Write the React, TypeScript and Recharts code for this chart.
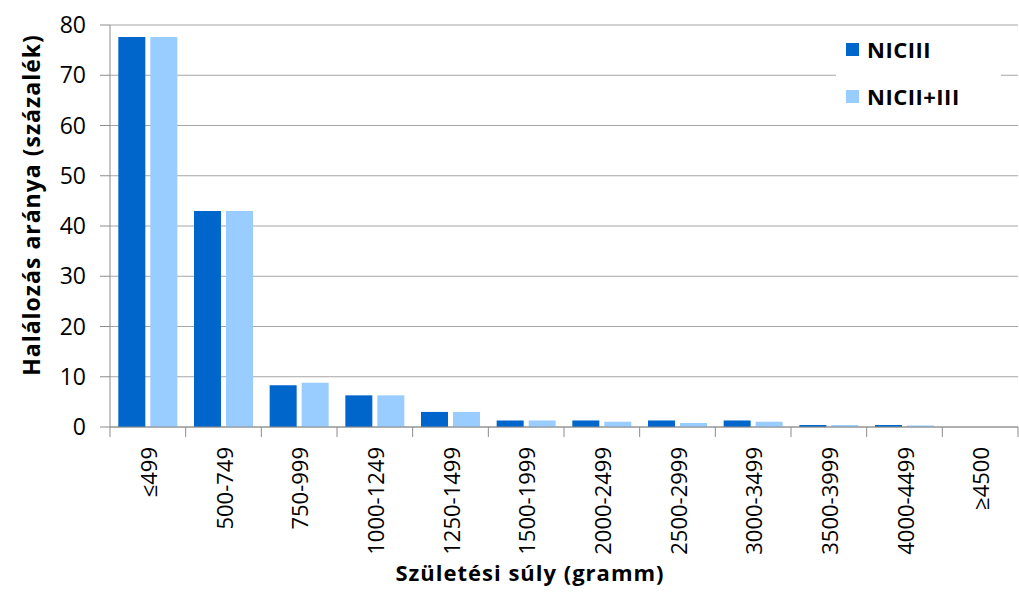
import { Bar, BarChart, CartesianGrid, Label, XAxis, YAxis } from 'recharts';

// Birth weight categories and mortality rates (%).
const CATEGORIES = [
  '≤499', '500-749', '750-999', '1000-1249', '1250-1499', '1500-1999',
  '2000-2499', '2500-2999', '3000-3499', '3500-3999', '4000-4499', '≥4500',
];
const NICIII = [77.6, 43.0, 8.3, 6.3, 3.0, 1.3, 1.3, 1.3, 1.3, 0.4, 0.4, 0];
const NICII_III = [77.6, 43.0, 8.8, 6.3, 3.0, 1.3, 1.05, 0.8, 1.05, 0.4, 0.3, 0];
const Y_TICKS = [0, 10, 20, 30, 40, 50, 60, 70, 80];

const DARK = '#0066cc';
const LIGHT = '#99ccff';
const GRID = '#a6a6a6';
const AXIS = '#8c8c8c';
const FONT = '"Open Sans", sans-serif';

const data = CATEGORIES.map((name, i) => ({ name, niciii: NICIII[i], nicii: NICII_III[i] }));

const WIDTH = 1019;
const HEIGHT = 596;
const PLOT_LEFT = 110;
const PLOT_RIGHT = 1018;
const BAND = (PLOT_RIGHT - PLOT_LEFT) / CATEGORIES.length;

// Excel-style x tick: vertical label at the category centre, tick mark at the boundary
function XTick(props: any) {
  const { x, y, payload, index } = props;
  const axisY = y - 10;
  const left = x - BAND / 2;
  return (
    <g>
      <line x1={left} y1={axisY} x2={left} y2={axisY + 10} stroke={AXIS} />
      {index === CATEGORIES.length - 1 && (
        <line x1={left + BAND} y1={axisY} x2={left + BAND} y2={axisY + 10} stroke={AXIS} />
      )}
      <text
        transform={`translate(${x},${axisY + 20}) rotate(-90)`}
        textAnchor="end"
        dominantBaseline="central"
        fontFamily={FONT}
        fontSize={22}
        fill="#000"
      >
        {payload.value}
      </text>
    </g>
  );
}

const LEGEND = [
  { label: 'NICIII', color: DARK },
  { label: 'NICII+III', color: LIGHT },
];

function LegendBox() {
  return (
    <div style={{ position: 'absolute', left: 836, top: 30, background: '#fff', width: 165, height: 88 }}>
      {LEGEND.map((it, i) => (
        <div
          key={it.label}
          style={{ position: 'absolute', left: 10, top: 6 + i * 47, display: 'flex', alignItems: 'center' }}
        >
          <span style={{ width: 13, height: 13, background: it.color, display: 'inline-block', marginRight: 8 }} />
          <span
            style={{ fontFamily: FONT, fontWeight: 700, fontSize: 22, letterSpacing: 0.5, color: '#000', lineHeight: '26px' }}
          >
            {it.label}
          </span>
        </div>
      ))}
    </div>
  );
}

export default function App() {
  return (
    <div style={{ position: 'absolute', left: 0, top: 0, width: WIDTH, height: HEIGHT, background: '#fff' }}>
      <BarChart
        width={WIDTH}
        height={HEIGHT}
        data={data}
        margin={{ top: 25, right: WIDTH - PLOT_RIGHT, left: 0, bottom: 0 }}
        barCategoryGap="11%"
        barGap={5}
      >
        <CartesianGrid vertical={false} stroke={GRID} />
        <XAxis
          dataKey="name"
          height={169}
          axisLine={{ stroke: AXIS }}
          tickLine={false}
          tickSize={10}
          tickMargin={0}
          interval={0}
          tick={<XTick />}
        >
          <Label
            content={() => (
              <text
                x={530}
                y={581}
                textAnchor="middle"
                fontFamily={FONT}
                fontWeight={700}
                fontSize={22}
                letterSpacing={1}
                fill="#000"
              >
                Születési súly (gramm)
              </text>
            )}
          />
        </XAxis>
        <YAxis
          width={PLOT_LEFT}
          domain={[0, 80]}
          ticks={Y_TICKS}
          interval={0}
          axisLine={{ stroke: AXIS }}
          tickLine={{ stroke: AXIS }}
          tickSize={10}
          tickMargin={14}
          tick={{ fontFamily: FONT, fontSize: 23, fill: '#000' }}
        >
          <Label
            content={() => (
              <text
                transform="translate(31,205) rotate(-90)"
                textAnchor="middle"
                dominantBaseline="central"
                fontFamily={FONT}
                fontWeight={700}
                fontSize={23}
                letterSpacing={1}
                fill="#000"
              >
                Halálozás aránya (százalék)
              </text>
            )}
          />
        </YAxis>
        <Bar dataKey="niciii" name="NICIII" fill={DARK} isAnimationActive={false} />
        <Bar dataKey="nicii" name="NICII+III" fill={LIGHT} isAnimationActive={false} />
      </BarChart>
      <LegendBox />
    </div>
  );
}
